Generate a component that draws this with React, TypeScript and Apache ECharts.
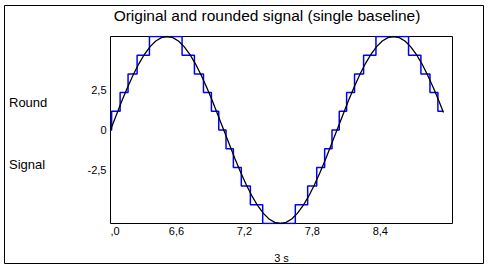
import React, { useEffect, useRef } from "react";
import * as echarts from "echarts";

const FONT = "'Liberation Sans', Arial, sans-serif";

const titleText = "Original and rounded signal (single baseline)";
const sideLabels = ["Round", "Signal"];
const xAxisName = "3 s";
const yTickValues = [-2.5, 0, 2.5];

const signalTime = [
  6.0, 6.05, 6.1, 6.15, 6.2, 6.25, 6.3, 6.35, 6.4, 6.45, 6.5,
  6.55, 6.6, 6.65, 6.7, 6.75, 6.8, 6.85, 6.9, 6.95, 7.0,
  7.05, 7.1, 7.15, 7.2, 7.25, 7.3, 7.35, 7.4, 7.45, 7.5,
  7.55, 7.6, 7.65, 7.7, 7.75, 7.8, 7.85, 7.9, 7.95, 8.0,
  8.05, 8.1, 8.15, 8.2, 8.25, 8.3, 8.35, 8.4, 8.45, 8.5,
  8.55, 8.6, 8.65, 8.7, 8.75, 8.8, 8.85, 8.9, 8.94,
];
const signalValue = [
  0, 0.78, 1.55, 2.27, 2.94, 3.54, 4.05, 4.46, 4.76, 4.94, 5,
  4.94, 4.76, 4.46, 4.05, 3.54, 2.94, 2.27, 1.55, 0.78, 0,
  -0.78, -1.55, -2.27, -2.94, -3.54, -4.05, -4.46, -4.76, -4.94, -5,
  -4.94, -4.76, -4.46, -4.05, -3.54, -2.94, -2.27, -1.55, -0.78, 0,
  0.78, 1.55, 2.27, 2.94, 3.54, 4.05, 4.46, 4.76, 4.94, 5,
  4.94, 4.76, 4.46, 4.05, 3.54, 2.94, 2.27, 1.55, 0.94,
];

const roundTime = [
  6.0, 6.01, 6.085, 6.155, 6.235, 6.344, 6.632, 6.741, 6.821, 6.891,
  6.956, 7.02, 7.085, 7.155, 7.235, 7.344, 7.632, 7.741, 7.821, 7.891,
  7.956, 8.02, 8.085, 8.155, 8.235, 8.344, 8.632, 8.741, 8.821, 8.891, 8.94,
];
const roundValue = [
  0, 1, 2, 3, 4, 5, 4, 3, 2, 1,
  0, -1, -2, -3, -4, -5, -4, -3, -2, -1,
  0, 1, 2, 3, 4, 5, 4, 3, 2, 1, 1,
];

export default function App() {
  const ref = useRef<HTMLDivElement>(null);
  useEffect(() => {
    if (!ref.current) return;
    const chart = echarts.init(ref.current, null, { renderer: "svg" });
    const signalData = signalTime.map((t, i) => [t, signalValue[i]]);
    const roundData = roundTime.map((t, i) => [t, roundValue[i]]);
    chart.setOption({
      animation: false,
      backgroundColor: "#ffffff",
      textStyle: { fontFamily: FONT },
      title: {
        text: titleText,
        left: 267,
        top: 7.5,
        padding: 0,
        textAlign: "center",
        textStyle: { fontFamily: FONT, fontSize: 15.5, fontWeight: "normal", color: "#000" },
      },
      grid: {
        left: 110.5,
        top: 36.5,
        width: 342,
        height: 187,
        show: false,
        containLabel: false,
      },
      xAxis: {
        type: "value",
        min: 6,
        max: 9.02,
        interval: 0.6,
        name: xAxisName,
        nameLocation: "middle",
        nameGap: 28.5,
        nameTextStyle: { fontFamily: FONT, fontSize: 11, color: "#000" },
        axisLine: { show: false },
        axisTick: { show: false },
        splitLine: { show: false },
        axisLabel: {
          show: true,
          margin: 2,
          fontFamily: FONT,
          fontSize: 11,
          color: "#000",
          padding: [0, 4, 0, 0],
          alignMinLabel: "left",
          showMaxLabel: false,
          formatter: (v: number) => {
            if (v < 6.3) return ",0";
            if (v > 8.7) return "";
            return v.toFixed(1).replace(".", ",");
          },
        },
      },
      yAxis: [
        {
          type: "value",
          min: -5,
          max: 5,
          axisLine: { show: false },
          axisTick: { show: false },
          axisLabel: { show: false },
          splitLine: { show: false },
        },
        {
          type: "value",
          min: -5.9,
          max: 5.9,
          position: "left",
          axisLine: { show: false },
          axisTick: { show: false },
          splitLine: { show: false },
          axisLabel: {
            show: true,
            margin: 4,
            fontFamily: FONT,
            fontSize: 11,
            color: "#000",
            customValues: yTickValues,
            formatter: (v: number) => (v === 0 ? "0" : String(v).replace(".", ",")),
          },
        },
      ],
      series: [
        {
          name: sideLabels[0],
          type: "line",
          data: roundData,
          step: "end",
          showSymbol: false,
          symbol: "none",
          lineStyle: { color: "#0000ff", width: 1.5 },
          z: 2,
        },
        {
          name: sideLabels[1],
          type: "line",
          data: signalData,
          showSymbol: false,
          symbol: "none",
          lineStyle: { color: "#000000", width: 1.3 },
          z: 3,
        },
      ],
      graphic: [
        {
          type: "rect",
          z: 0,
          shape: { x: 4.5, y: 5.5, width: 479, height: 258 },
          style: { fill: "none", stroke: "#000", lineWidth: 1 },
          silent: true,
        },
        {
          type: "rect",
          z: 0,
          shape: { x: 110.5, y: 36.5, width: 342, height: 187 },
          style: { fill: "none", stroke: "#000", lineWidth: 1 },
          silent: true,
        },
        {
          type: "text",
          x: 9,
          y: 102.7,
          style: { text: sideLabels[0], fontFamily: FONT, fontSize: 13, fill: "#000", verticalAlign: "middle" },
        },
        {
          type: "text",
          x: 9,
          y: 164.3,
          style: { text: sideLabels[1], fontFamily: FONT, fontSize: 13, fill: "#000", verticalAlign: "middle" },
        },
      ],
    });
    return () => chart.dispose();
  }, []);
  return (
    <div
      ref={ref}
      style={{ position: "absolute", left: 0, top: 0, width: 489, height: 268, background: "#fff" }}
    />
  );
}
